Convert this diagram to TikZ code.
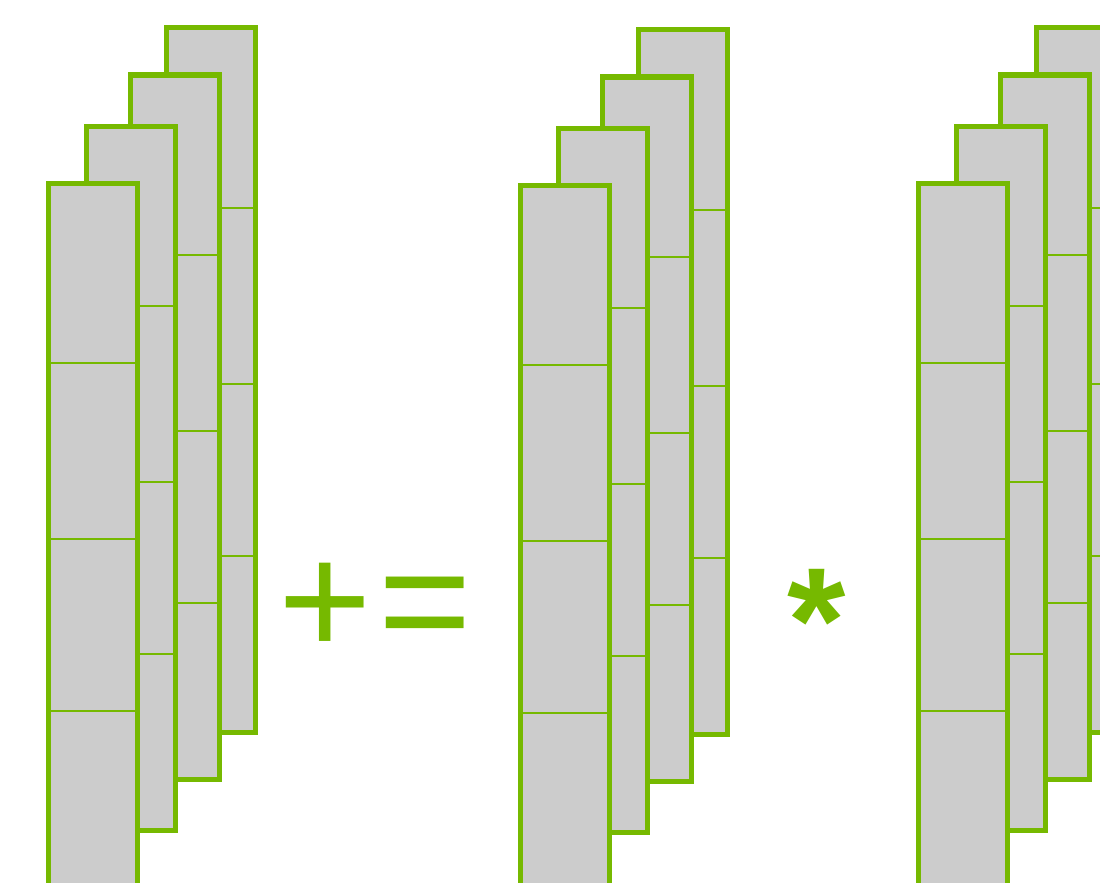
\documentclass[tikz,border=0pt]{standalone}
\usepackage{fontspec}
\newfontfamily\symfont{Liberation Sans}
\usetikzlibrary{calc}
\definecolor{nvgreen}{HTML}{76B900}
\definecolor{cellgray}{HTML}{CCCCCC}
\tikzset{
  colbox/.style={fill=cellgray, draw=nvgreen, line width=5pt, minimum width=89.5pt,
    minimum height=704pt, anchor=north west, inner sep=0pt, outer sep=0pt},
  celldiv/.style={draw=nvgreen, line width=1.8pt},
  opsym/.style={text=nvgreen, font=\symfont\fontsize{160}{160}\selectfont, inner sep=0pt, anchor=base}
}
\begin{document}
\begin{tikzpicture}[x=1pt,y=-1pt]
  \useasboundingbox (0,0) rectangle (1100,883);
  \clip (0,0) rectangle (1100,883);
  \foreach \s/\dx/\dy in {1/0/0, 2/472/2, 3/870/0}{
    \foreach \c/\x/\y in {4/166/28, 3/130/75, 2/86/126, 1/48/183}{
      \node[colbox] (s\s c\c) at (\x+\dx, \y+\dy) {};
      \foreach \o in {180,356,528}
        \draw[celldiv] ($(s\s c\c.north west)+(0,\o)$) -- ($(s\s c\c.north east)+(0,\o)$);
    }
  }
  \node[opsym] (plus) at (325,655.5) {+};
  \node[opsym] (eq) at (425.5,655.5) {=};
  \node[opsym, font=\symfont\bfseries\fontsize{150}{150}\selectfont] (star) at (817,672) {*};
\end{tikzpicture}
\end{document}
